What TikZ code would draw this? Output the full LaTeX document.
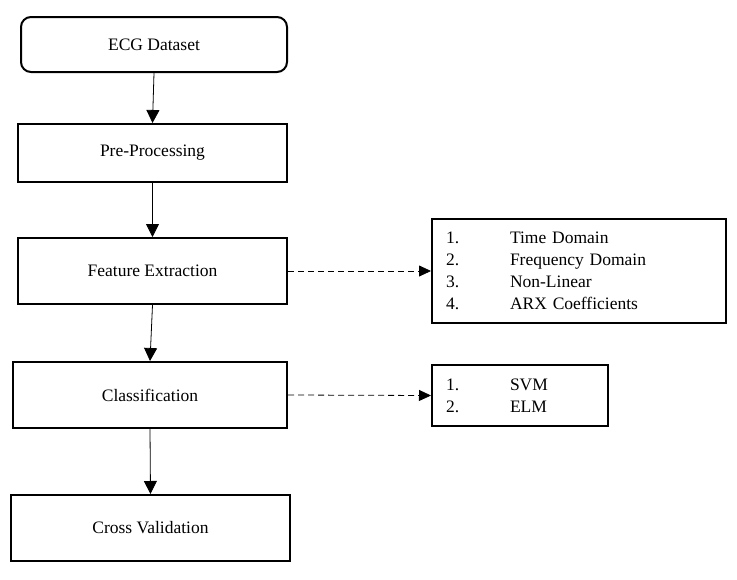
\documentclass[tikz,border=0pt]{standalone}
\usepackage{fontspec}
\setmainfont{Liberation Serif}
\usetikzlibrary{arrows.meta}
\begin{document}
\begin{tikzpicture}[x=1pt,y=-1pt,
  box/.style={draw=black, line width=2pt, rectangle, inner sep=0pt, font=\fontsize{17.5}{22}\selectfont},
  listbox/.style={draw=black, line width=2pt, rectangle, inner ysep=0pt, inner xsep=14pt, align=left, font=\fontsize{17.5}{22}\selectfont},
  arr/.style={line width=0.8pt, draw=black, -{Triangle[width=13pt,length=13pt]}},
  darr/.style={line width=0.8pt, draw=black, dash pattern=on 6pt off 4pt, -{Triangle[width=11pt,length=12pt]}}]
\useasboundingbox (0,0) rectangle (737,579);
\node[box, rounded corners=10pt, minimum width=266pt, minimum height=55pt] (ecg) at (154,44.5) {ECG Dataset};
\node[box, minimum width=269pt, minimum height=58pt] (pre) at (152.5,153) {\raisebox{-2pt}{Pre-Processing}};
\node[box, minimum width=269pt, minimum height=66pt] (feat) at (152.5,271) {\raisebox{-1pt}{Feature Extraction}};
\node[box, minimum width=274pt, minimum height=66pt] (cls) at (150,395) {\raisebox{-1pt}{Classification}};
\node[box, minimum width=279pt, minimum height=66pt] (cv) at (150.5,528) {\raisebox{-1.5pt}{Cross Validation}};
\node[listbox, text width=266pt, minimum height=104pt] (l1) at (579,271)
  {\makebox[64pt][l]{1.}Time Domain\\\makebox[64pt][l]{2.}Frequency Domain\\\makebox[64pt][l]{3.}Non-Linear\\\makebox[64pt][l]{4.}ARX Coefficients};
\node[listbox, text width=148pt, minimum height=61pt] (l2) at (520,395.5)
  {\makebox[64pt][l]{1.}SVM\\\makebox[64pt][l]{2.}ELM};
\draw[arr] (ecg.south) -- (pre.north);
\draw[arr] (pre.south) -- (feat.north);
\draw[arr] (feat.south) -- (cls.north);
\draw[arr] (cls.south) -- (cv.north);
\draw[darr] (feat.east) -- (l1.west);
\draw[darr] (cls.east) -- (l2.west);
\end{tikzpicture}
\end{document}
